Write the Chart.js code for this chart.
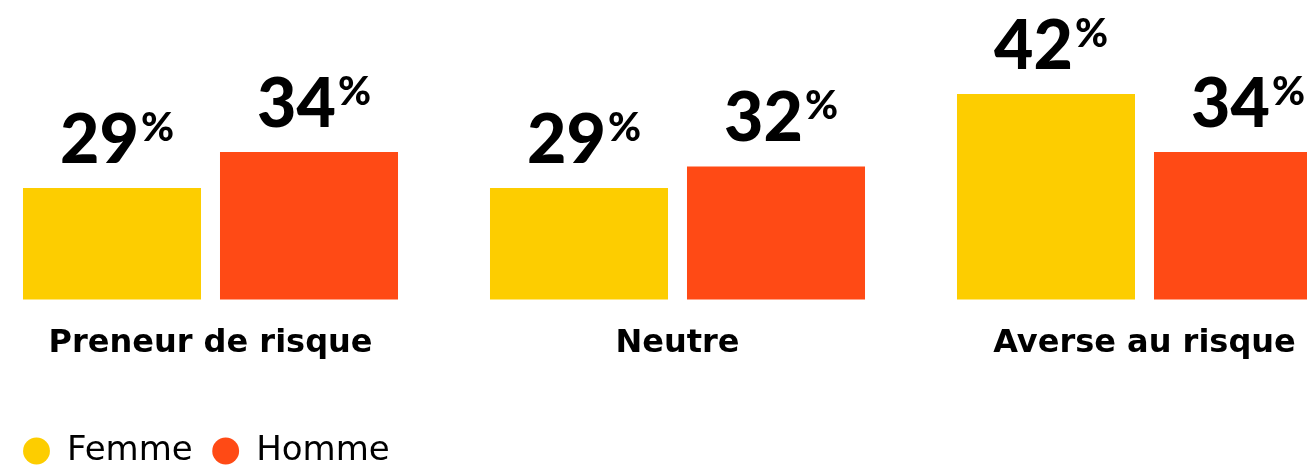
<!DOCTYPE html>
<html>
<head>
<meta charset="utf-8">
<script src="https://cdn.jsdelivr.net/npm/chart.js@4.4.1/dist/chart.umd.min.js"></script>
<style>
  html, body { margin: 0; padding: 0; background: #fff; overflow: hidden; }
  #wrap { position: absolute; left: -23px; top: 0; width: 1401px; height: 478px; }
</style>
</head>
<body>
<div id="wrap"><canvas id="chart" width="1401" height="478"></canvas></div>
<script>
// data
const categories = ["Preneur de risque", "Neutre", "Averse au risque"]
const femmeValues = [29, 29, 42]
const hommeValues = [34, 32, 34]
const seriesNames = ["Femme", "Homme"]
const seriesColors = ["#FDCD00", "#FF4A15"]

const numFont = "900 68px Lato"
const pctFont = "900 40px Lato"

// big "29%" style labels above the bars
const valueLabels = {
  id: "valueLabels",
  afterDatasetsDraw(chart) {
    const ctx = chart.ctx
    chart.data.datasets.forEach((ds, i) => {
      chart.getDatasetMeta(i).data.forEach((bar, j) => {
        const num = String(ds.data[j])
        ctx.save()
        ctx.fillStyle = "#000"
        ctx.textAlign = "left"
        ctx.textBaseline = "alphabetic"
        ctx.font = numFont
        const wNum = ctx.measureText(num).width
        ctx.font = pctFont
        const wPct = ctx.measureText("%").width
        const x0 = bar.x - (wNum + 2 + wPct) / 2 + 5
        const base = bar.y - 25
        ctx.font = numFont
        ctx.fillText(num, x0, base)
        ctx.font = pctFont
        ctx.fillText("%", x0 + wNum + 2, base - 22)
        ctx.restore()
      })
    })
  }
}

// legend sits a bit further right than chart.js puts it
const legendShift = {
  id: "legendShift",
  afterLayout(chart) {
    chart.legend.left += 26.6
    chart.legend.right += 26.6
  }
}

const chart = new Chart(document.getElementById("chart"), {
  type: "bar",
  data: {
    labels: categories,
    datasets: [
      { label: seriesNames[0], data: femmeValues, backgroundColor: seriesColors[0] },
      { label: seriesNames[1], data: hommeValues, backgroundColor: seriesColors[1] },
    ],
  },
  options: {
    responsive: false,
    animation: false,
    events: [],
    categoryPercentage: 0.8437,
    barPercentage: 0.9036,
    borderWidth: 0,
    layout: { padding: 0 },
    scales: {
      x: {
        grid: { display: false },
        border: { display: false },
        ticks: {
          color: "#000",
          maxRotation: 0,
          autoSkip: false,
          padding: 17,
          font: { family: "'DejaVu Sans'", weight: "700", size: 32 },
        },
        afterFit(scale) {
          scale.height = 115.1
        },
      },
      y: { display: false, min: 13.6, max: 55 },
    },
    plugins: {
      tooltip: { enabled: false },
      legend: {
        position: "bottom",
        align: "start",
        labels: {
          usePointStyle: true,
          pointStyle: "circle",
          boxWidth: 27,
          boxHeight: 19,
          padding: 19.4,
          color: "#000",
          font: { family: "'DejaVu Sans'", size: 34 },
        },
      },
    },
  },
  plugins: [valueLabels, legendShift],
})
</script>
</body>
</html>
